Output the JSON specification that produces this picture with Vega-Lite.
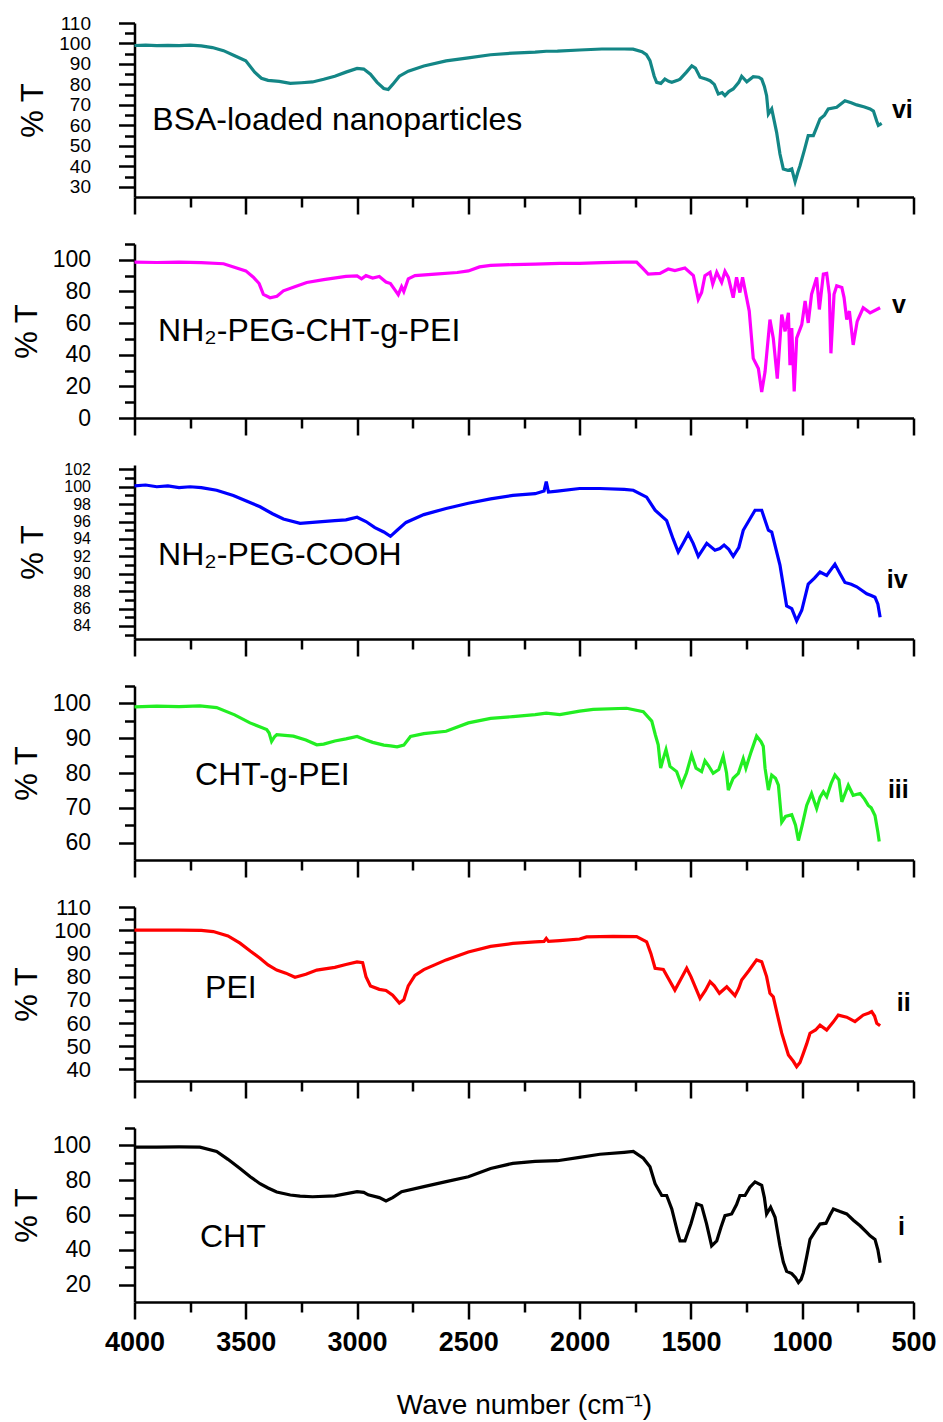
{
"$schema": "https://vega.github.io/schema/vega-lite/v6.json",
"background": "white",
"padding": {"left": 10.5, "top": 14, "right": 4, "bottom": 2},
"spacing": 47,
"bounds": "flush",
"config": {
  "view": {"stroke": null},
  "axis": {"domainColor": "black", "domainWidth": 2.5, "tickColor": "black", "tickWidth": 2.5, "grid": false, "labelFont": "Liberation Sans", "titleFont": "Liberation Sans", "labelColor": "black", "titleColor": "black", "labelFlush": false, "labelOverlap": false},
  "text": {"font": "Liberation Sans", "color": "black"}
},
"datasets": {
"vi": [{"w":4000,"t":99},{"w":3950,"t":99.2},{"w":3900,"t":98.9},{"w":3850,"t":99.1},{"w":3800,"t":98.9},{"w":3750,"t":99.2},{"w":3700,"t":98.8},{"w":3650,"t":98},{"w":3600,"t":96.5},{"w":3550,"t":94},{"w":3500,"t":91.5},{"w":3460,"t":86},{"w":3430,"t":83},{"w":3400,"t":82},{"w":3350,"t":81.5},{"w":3300,"t":80.5},{"w":3250,"t":80.8},{"w":3200,"t":81.2},{"w":3150,"t":82.5},{"w":3100,"t":84},{"w":3050,"t":86},{"w":3000,"t":87.8},{"w":2970,"t":87.5},{"w":2940,"t":85},{"w":2910,"t":81},{"w":2880,"t":78},{"w":2860,"t":77.5},{"w":2840,"t":80},{"w":2810,"t":84},{"w":2770,"t":86.5},{"w":2700,"t":89},{"w":2600,"t":91.5},{"w":2500,"t":93},{"w":2400,"t":94.5},{"w":2300,"t":95.3},{"w":2200,"t":95.8},{"w":2150,"t":96.2},{"w":2100,"t":96.3},{"w":2000,"t":96.8},{"w":1900,"t":97.3},{"w":1800,"t":97.3},{"w":1760,"t":97.2},{"w":1720,"t":96},{"w":1700,"t":94.5},{"w":1684,"t":91.6},{"w":1665,"t":84},{"w":1654,"t":81},{"w":1635,"t":80.5},{"w":1617,"t":82.6},{"w":1600,"t":81.5},{"w":1586,"t":81},{"w":1560,"t":82},{"w":1549,"t":82.6},{"w":1520,"t":86},{"w":1496,"t":89.1},{"w":1480,"t":88},{"w":1459,"t":83.5},{"w":1430,"t":82.5},{"w":1414,"t":81.8},{"w":1395,"t":80},{"w":1377,"t":75.3},{"w":1360,"t":76},{"w":1347,"t":74.5},{"w":1330,"t":76.5},{"w":1310,"t":77.8},{"w":1285,"t":81},{"w":1272,"t":84},{"w":1249,"t":81.3},{"w":1220,"t":83.8},{"w":1195,"t":83.5},{"w":1182,"t":82.6},{"w":1170,"t":79},{"w":1160,"t":74.5},{"w":1152,"t":65.5},{"w":1137,"t":68},{"w":1115,"t":56.6},{"w":1100,"t":46},{"w":1085,"t":38.7},{"w":1065,"t":38},{"w":1047,"t":38.7},{"w":1032,"t":32.5},{"w":1020,"t":37},{"w":1010,"t":40.3},{"w":990,"t":48},{"w":973,"t":55},{"w":950,"t":55},{"w":935,"t":59},{"w":920,"t":63.1},{"w":900,"t":65},{"w":883,"t":68},{"w":845,"t":68.8},{"w":808,"t":72},{"w":780,"t":71},{"w":755,"t":70},{"w":720,"t":69},{"w":695,"t":68},{"w":680,"t":67},{"w":665,"t":62},{"w":658,"t":60},{"w":643,"t":61}],
"v": [{"w":4000,"t":98.5},{"w":3900,"t":98.3},{"w":3800,"t":98.5},{"w":3700,"t":98.2},{"w":3600,"t":97.5},{"w":3500,"t":93},{"w":3466,"t":89},{"w":3440,"t":85},{"w":3421,"t":78.2},{"w":3391,"t":76},{"w":3360,"t":77},{"w":3331,"t":80.4},{"w":3280,"t":83},{"w":3226,"t":85.7},{"w":3150,"t":87.5},{"w":3050,"t":89.5},{"w":3000,"t":89.8},{"w":2980,"t":88},{"w":2960,"t":90},{"w":2930,"t":88.5},{"w":2900,"t":89.5},{"w":2870,"t":86},{"w":2850,"t":85},{"w":2830,"t":81},{"w":2815,"t":78},{"w":2800,"t":83},{"w":2790,"t":80},{"w":2770,"t":88},{"w":2740,"t":90},{"w":2650,"t":91},{"w":2550,"t":92},{"w":2500,"t":93},{"w":2450,"t":95.5},{"w":2400,"t":96.5},{"w":2300,"t":97},{"w":2200,"t":97.3},{"w":2089,"t":97.8},{"w":2000,"t":97.8},{"w":1900,"t":98.2},{"w":1800,"t":98.5},{"w":1744,"t":98.5},{"w":1714,"t":94.2},{"w":1692,"t":91},{"w":1639,"t":91.4},{"w":1602,"t":94.2},{"w":1572,"t":93.2},{"w":1527,"t":94.8},{"w":1489,"t":90},{"w":1467,"t":75},{"w":1452,"t":79.3},{"w":1437,"t":90},{"w":1414,"t":92.1},{"w":1402,"t":84.6},{"w":1384,"t":92.1},{"w":1362,"t":85.7},{"w":1347,"t":92.7},{"w":1332,"t":88.9},{"w":1310,"t":76.1},{"w":1295,"t":88.9},{"w":1280,"t":79.3},{"w":1268,"t":88.9},{"w":1250,"t":76.1},{"w":1238,"t":67.6},{"w":1220,"t":37.7},{"w":1197,"t":31.3},{"w":1182,"t":16.4},{"w":1167,"t":29.2},{"w":1145,"t":62.2},{"w":1130,"t":50.5},{"w":1112,"t":24.9},{"w":1092,"t":65.4},{"w":1077,"t":54.8},{"w":1062,"t":66.5},{"w":1055,"t":33.4},{"w":1047,"t":56.9},{"w":1036,"t":16.8},{"w":1025,"t":50.5},{"w":1002,"t":59},{"w":987,"t":74},{"w":973,"t":60.1},{"w":958,"t":78.2},{"w":935,"t":88.9},{"w":923,"t":68.6},{"w":905,"t":91},{"w":890,"t":91.4},{"w":878,"t":78.2},{"w":871,"t":40.9},{"w":857,"t":78.2},{"w":845,"t":83.6},{"w":822,"t":82.5},{"w":812,"t":76.1},{"w":800,"t":62.2},{"w":788,"t":67.6},{"w":771,"t":46.2},{"w":753,"t":61.1},{"w":726,"t":69.7},{"w":695,"t":66.5},{"w":650,"t":69.7}],
"iv": [{"w":4000,"t":100.1},{"w":3950,"t":100.2},{"w":3900,"t":100.0},{"w":3850,"t":100.1},{"w":3800,"t":99.9},{"w":3750,"t":100.0},{"w":3700,"t":99.9},{"w":3631,"t":99.6},{"w":3556,"t":99.0},{"w":3500,"t":98.4},{"w":3436,"t":97.7},{"w":3380,"t":96.9},{"w":3331,"t":96.3},{"w":3256,"t":95.8},{"w":3200,"t":95.9},{"w":3100,"t":96.1},{"w":3050,"t":96.2},{"w":3000,"t":96.5},{"w":2960,"t":96.0},{"w":2920,"t":95.3},{"w":2880,"t":94.8},{"w":2850,"t":94.3},{"w":2820,"t":95.0},{"w":2780,"t":95.9},{"w":2700,"t":96.8},{"w":2600,"t":97.5},{"w":2500,"t":98.1},{"w":2400,"t":98.6},{"w":2300,"t":99.0},{"w":2200,"t":99.2},{"w":2160,"t":99.5},{"w":2150,"t":100.6},{"w":2140,"t":99.4},{"w":2100,"t":99.5},{"w":2000,"t":99.8},{"w":1909,"t":99.8},{"w":1800,"t":99.7},{"w":1759,"t":99.6},{"w":1699,"t":98.8},{"w":1661,"t":97.3},{"w":1609,"t":96.1},{"w":1580,"t":94},{"w":1557,"t":92.5},{"w":1535,"t":93.5},{"w":1512,"t":94.6},{"w":1490,"t":93.5},{"w":1467,"t":92.0},{"w":1429,"t":93.5},{"w":1392,"t":92.7},{"w":1370,"t":92.9},{"w":1351,"t":93.3},{"w":1330,"t":92.8},{"w":1310,"t":92.0},{"w":1285,"t":93},{"w":1265,"t":95.0},{"w":1212,"t":97.3},{"w":1182,"t":97.3},{"w":1152,"t":95.0},{"w":1137,"t":94.8},{"w":1100,"t":91.0},{"w":1070,"t":86.3},{"w":1047,"t":86.0},{"w":1025,"t":84.6},{"w":1002,"t":85.8},{"w":973,"t":88.8},{"w":945,"t":89.5},{"w":920,"t":90.2},{"w":890,"t":89.8},{"w":853,"t":91.1},{"w":830,"t":90},{"w":808,"t":89.0},{"w":780,"t":88.8},{"w":755,"t":88.5},{"w":710,"t":87.7},{"w":690,"t":87.5},{"w":673,"t":87.3},{"w":660,"t":86.5},{"w":650,"t":85.0}],
"iii": [{"w":4000,"t":99},{"w":3900,"t":99.2},{"w":3800,"t":99.1},{"w":3706,"t":99.3},{"w":3631,"t":98.8},{"w":3550,"t":96.7},{"w":3481,"t":94.4},{"w":3406,"t":92.5},{"w":3395,"t":91.5},{"w":3384,"t":89.1},{"w":3370,"t":90.5},{"w":3361,"t":91},{"w":3286,"t":90.6},{"w":3230,"t":89.5},{"w":3181,"t":88.1},{"w":3150,"t":88.3},{"w":3100,"t":89.2},{"w":3050,"t":89.8},{"w":3000,"t":90.5},{"w":2960,"t":89.5},{"w":2930,"t":88.8},{"w":2880,"t":88},{"w":2850,"t":87.8},{"w":2820,"t":87.5},{"w":2790,"t":88},{"w":2760,"t":90.5},{"w":2700,"t":91.3},{"w":2600,"t":92},{"w":2500,"t":94.4},{"w":2400,"t":95.7},{"w":2300,"t":96.2},{"w":2200,"t":96.8},{"w":2150,"t":97.2},{"w":2089,"t":96.8},{"w":2000,"t":97.8},{"w":1939,"t":98.3},{"w":1789,"t":98.6},{"w":1714,"t":97.6},{"w":1676,"t":94.9},{"w":1660,"t":91},{"w":1647,"t":88.1},{"w":1636,"t":81.4},{"w":1625,"t":84},{"w":1612,"t":86.7},{"w":1594,"t":81.9},{"w":1564,"t":80.4},{"w":1542,"t":76.5},{"w":1520,"t":80},{"w":1497,"t":85.2},{"w":1477,"t":81.4},{"w":1452,"t":80.4},{"w":1437,"t":83.5},{"w":1420,"t":82},{"w":1400,"t":79.9},{"w":1375,"t":81},{"w":1355,"t":84.8},{"w":1340,"t":80},{"w":1332,"t":75.1},{"w":1310,"t":78.5},{"w":1287,"t":79.9},{"w":1265,"t":84.1},{"w":1253,"t":81.4},{"w":1230,"t":86},{"w":1205,"t":90.6},{"w":1185,"t":89},{"w":1175,"t":87.7},{"w":1167,"t":81.4},{"w":1152,"t":75.1},{"w":1137,"t":79.4},{"w":1120,"t":78.5},{"w":1107,"t":76.5},{"w":1092,"t":65.9},{"w":1075,"t":67.5},{"w":1047,"t":68.0},{"w":1030,"t":65},{"w":1017,"t":60.6},{"w":1000,"t":65},{"w":980,"t":70.7},{"w":958,"t":74.1},{"w":935,"t":69.8},{"w":920,"t":73},{"w":905,"t":74.6},{"w":890,"t":73.2},{"w":870,"t":77},{"w":853,"t":79.4},{"w":835,"t":78},{"w":822,"t":71.7},{"w":793,"t":76.5},{"w":771,"t":73.6},{"w":740,"t":74.1},{"w":720,"t":72.5},{"w":703,"t":70.7},{"w":690,"t":70},{"w":673,"t":67.8},{"w":660,"t":63},{"w":654,"t":60.3}],
"ii": [{"w":4000,"t":100},{"w":3900,"t":100},{"w":3800,"t":100},{"w":3700,"t":99.9},{"w":3646,"t":99.4},{"w":3580,"t":97.5},{"w":3526,"t":94.4},{"w":3480,"t":91},{"w":3436,"t":87.9},{"w":3400,"t":85},{"w":3361,"t":82.8},{"w":3320,"t":81.5},{"w":3279,"t":79.7},{"w":3230,"t":81},{"w":3181,"t":82.8},{"w":3100,"t":84},{"w":3050,"t":85.2},{"w":3000,"t":86.3},{"w":2975,"t":86},{"w":2960,"t":80},{"w":2940,"t":76},{"w":2900,"t":74.5},{"w":2870,"t":74},{"w":2840,"t":72},{"w":2810,"t":68.6},{"w":2790,"t":70},{"w":2770,"t":76},{"w":2740,"t":80.5},{"w":2700,"t":83},{"w":2600,"t":87.2},{"w":2500,"t":90.6},{"w":2400,"t":93},{"w":2300,"t":94.3},{"w":2200,"t":95},{"w":2160,"t":95.2},{"w":2150,"t":96.5},{"w":2140,"t":95.2},{"w":2089,"t":95.5},{"w":2000,"t":96.2},{"w":1969,"t":97.1},{"w":1850,"t":97.3},{"w":1744,"t":97.2},{"w":1699,"t":95.0},{"w":1680,"t":90},{"w":1661,"t":83.6},{"w":1624,"t":83.1},{"w":1600,"t":79},{"w":1572,"t":74.2},{"w":1545,"t":79},{"w":1519,"t":83.6},{"w":1500,"t":80},{"w":1459,"t":70.6},{"w":1435,"t":74},{"w":1414,"t":77.8},{"w":1395,"t":76},{"w":1372,"t":72.8},{"w":1339,"t":75.6},{"w":1302,"t":71.8},{"w":1285,"t":75},{"w":1272,"t":78.5},{"w":1240,"t":82.5},{"w":1205,"t":87.2},{"w":1182,"t":86.4},{"w":1160,"t":80},{"w":1145,"t":72.8},{"w":1130,"t":71.3},{"w":1110,"t":63},{"w":1092,"t":55.6},{"w":1062,"t":46.2},{"w":1040,"t":43.5},{"w":1025,"t":41.2},{"w":1010,"t":43},{"w":995,"t":46.9},{"w":980,"t":51},{"w":965,"t":55.6},{"w":940,"t":57},{"w":920,"t":59.1},{"w":890,"t":57.0},{"w":860,"t":60.5},{"w":838,"t":63.4},{"w":800,"t":62.5},{"w":763,"t":60.6},{"w":726,"t":63.4},{"w":700,"t":64.3},{"w":688,"t":64.9},{"w":675,"t":63},{"w":665,"t":59.9},{"w":650,"t":58.8}],
"i": [{"w":4000,"t":99},{"w":3900,"t":99},{"w":3800,"t":99.1},{"w":3706,"t":99},{"w":3631,"t":96.5},{"w":3580,"t":92},{"w":3526,"t":86.7},{"w":3480,"t":82},{"w":3436,"t":78},{"w":3400,"t":75.5},{"w":3361,"t":73.2},{"w":3300,"t":71.5},{"w":3256,"t":70.9},{"w":3200,"t":70.5},{"w":3100,"t":71},{"w":3000,"t":73.4},{"w":2970,"t":73},{"w":2950,"t":71.6},{"w":2900,"t":70},{"w":2870,"t":68.1},{"w":2840,"t":70},{"w":2800,"t":73.4},{"w":2700,"t":76.3},{"w":2600,"t":79.2},{"w":2500,"t":82},{"w":2400,"t":86.7},{"w":2300,"t":89.7},{"w":2200,"t":90.8},{"w":2100,"t":91.2},{"w":2000,"t":93.1},{"w":1909,"t":94.9},{"w":1800,"t":96},{"w":1759,"t":96.5},{"w":1714,"t":92.6},{"w":1684,"t":87.7},{"w":1661,"t":78},{"w":1631,"t":71.2},{"w":1609,"t":71.2},{"w":1586,"t":63.5},{"w":1560,"t":50},{"w":1549,"t":45.1},{"w":1527,"t":45.1},{"w":1500,"t":55},{"w":1474,"t":66.4},{"w":1452,"t":65.4},{"w":1430,"t":55},{"w":1407,"t":42.2},{"w":1384,"t":45.1},{"w":1365,"t":53},{"w":1347,"t":59.6},{"w":1317,"t":60.6},{"w":1295,"t":66},{"w":1280,"t":71.2},{"w":1257,"t":71.2},{"w":1235,"t":76},{"w":1212,"t":79},{"w":1182,"t":77},{"w":1170,"t":70},{"w":1160,"t":60.6},{"w":1142,"t":64.5},{"w":1122,"t":58.7},{"w":1100,"t":42.2},{"w":1085,"t":33},{"w":1070,"t":27.6},{"w":1047,"t":26.3},{"w":1030,"t":24},{"w":1017,"t":21.2},{"w":1005,"t":23},{"w":995,"t":26.7},{"w":980,"t":36},{"w":965,"t":46},{"w":940,"t":51},{"w":920,"t":54.8},{"w":893,"t":55.3},{"w":875,"t":60},{"w":860,"t":63.5},{"w":830,"t":62},{"w":800,"t":60.6},{"w":770,"t":57},{"w":740,"t":53.8},{"w":710,"t":50},{"w":695,"t":48},{"w":673,"t":46},{"w":660,"t":40},{"w":650,"t":32.5}]
},
"vconcat": [
{"width": 779, "height": 174, "resolve": {"axis": {"x": "independent", "y": "independent"}}, "layer": [
 {"data": {"name": "vi"}, "mark": {"type": "line", "opacity": 0},
  "encoding": {
   "x": {"field": "w", "type": "quantitative", "scale": {"domain": [500, 4000], "reverse": true, "nice": false, "zero": false},
     "axis": {"orient": "bottom", "title": null, "labels": false, "domain": false, "tickSize": 10, "values": [750,1250,1750,2250,2750,3250,3750]}},
   "y": {"field": "t", "type": "quantitative", "scale": {"domain": [25, 110], "nice": false, "zero": false},
     "axis": {"orient": "left", "title": null, "labels": false, "domain": false, "tickSize": 10, "values": [35,45,55,65,75,85,95,105]}}
  }},
 {"data": {"name": "vi"}, "mark": {"type": "line", "color": "#138686", "strokeWidth": 3.2},
  "encoding": {
   "x": {"field": "w", "type": "quantitative",
     "axis": {"orient": "bottom", "title": null, "labels": false, "tickSize": 17, "values": [500,1000,1500,2000,2500,3000,3500,4000]}},
   "y": {"field": "t", "type": "quantitative",
     "axis": {"orient": "left", "title": "% T", "titleFontSize": 31, "titleFontWeight": "normal", "titleX": -101, "titleY": 87, "titleAngle": -90, "titleBaseline": "middle", "titleAlign": "center",
       "values": [30,40,50,60,70,80,90,100,110], "labelFontSize": 19, "labelPadding": 28, "labelOverlap": false, "tickSize": 16}}
  }},
 {"data": {"values": [{}]}, "mark": {"type": "text", "align": "left", "baseline": "middle", "fontSize": 32}, "encoding": {"x": {"datum": 3920, "axis": null}, "y": {"datum": 62.6, "axis": null}, "text": {"value": "BSA-loaded nanoparticles"}}},
 {"data": {"values": [{}]}, "mark": {"type": "text", "align": "left", "baseline": "middle", "fontSize": 25, "fontWeight": "bold"}, "encoding": {"x": {"datum": 597, "axis": null}, "y": {"datum": 67.5, "axis": null}, "text": {"value": "vi"}}}
]},
{"width": 779, "height": 174, "resolve": {"axis": {"x": "independent", "y": "independent"}}, "layer": [
 {"data": {"name": "v"}, "mark": {"type": "line", "opacity": 0},
  "encoding": {
   "x": {"field": "w", "type": "quantitative", "scale": {"domain": [500, 4000], "reverse": true, "nice": false, "zero": false},
     "axis": {"orient": "bottom", "title": null, "labels": false, "domain": false, "tickSize": 10, "values": [750,1250,1750,2250,2750,3250,3750]}},
   "y": {"field": "t", "type": "quantitative", "scale": {"domain": [0, 110], "nice": false, "zero": false},
     "axis": {"orient": "left", "title": null, "labels": false, "domain": false, "tickSize": 10, "values": [10,30,50,70,90,110]}}
  }},
 {"data": {"name": "v"}, "mark": {"type": "line", "color": "#ff00ff", "strokeWidth": 3.2},
  "encoding": {
   "x": {"field": "w", "type": "quantitative",
     "axis": {"orient": "bottom", "title": null, "labels": false, "tickSize": 17, "values": [500,1000,1500,2000,2500,3000,3500,4000]}},
   "y": {"field": "t", "type": "quantitative",
     "axis": {"orient": "left", "title": "% T", "titleFontSize": 31, "titleFontWeight": "normal", "titleX": -107, "titleY": 87, "titleAngle": -90, "titleBaseline": "middle", "titleAlign": "center",
       "values": [0,20,40,60,80,100], "labelFontSize": 23, "labelPadding": 28, "labelOverlap": false, "tickSize": 16}}
  }},
 {"data": {"values": [{}]}, "mark": {"type": "text", "align": "left", "baseline": "middle", "fontSize": 32}, "encoding": {"x": {"datum": 3894, "axis": null}, "y": {"datum": 55, "axis": null}, "text": {"value": "NH₂-PEG-CHT-g-PEI"}}},
 {"data": {"values": [{}]}, "mark": {"type": "text", "align": "left", "baseline": "middle", "fontSize": 25, "fontWeight": "bold"}, "encoding": {"x": {"datum": 597, "axis": null}, "y": {"datum": 71.6, "axis": null}, "text": {"value": "v"}}}
]},
{"width": 779, "height": 174, "resolve": {"axis": {"x": "independent", "y": "independent"}}, "layer": [
 {"data": {"name": "iv"}, "mark": {"type": "line", "opacity": 0},
  "encoding": {
   "x": {"field": "w", "type": "quantitative", "scale": {"domain": [500, 4000], "reverse": true, "nice": false, "zero": false},
     "axis": {"orient": "bottom", "title": null, "labels": false, "domain": false, "tickSize": 10, "values": [750,1250,1750,2250,2750,3250,3750]}},
   "y": {"field": "t", "type": "quantitative", "scale": {"domain": [82.5, 102.5], "nice": false, "zero": false},
     "axis": {"orient": "left", "title": null, "labels": false, "domain": false, "tickSize": 10, "values": [83,85,87,89,91,93,95,97,99,101]}}
  }},
 {"data": {"name": "iv"}, "mark": {"type": "line", "color": "#0000ff", "strokeWidth": 3.2},
  "encoding": {
   "x": {"field": "w", "type": "quantitative",
     "axis": {"orient": "bottom", "title": null, "labels": false, "tickSize": 17, "values": [500,1000,1500,2000,2500,3000,3500,4000]}},
   "y": {"field": "t", "type": "quantitative",
     "axis": {"orient": "left", "title": "% T", "titleFontSize": 31, "titleFontWeight": "normal", "titleX": -101, "titleY": 87, "titleAngle": -90, "titleBaseline": "middle", "titleAlign": "center",
       "values": [84,86,88,90,92,94,96,98,100,102], "labelFontSize": 16, "labelPadding": 28, "labelOverlap": false, "tickSize": 16}}
  }},
 {"data": {"values": [{}]}, "mark": {"type": "text", "align": "left", "baseline": "middle", "fontSize": 32}, "encoding": {"x": {"datum": 3894, "axis": null}, "y": {"datum": 92.1, "axis": null}, "text": {"value": "NH₂-PEG-COOH"}}},
 {"data": {"values": [{}]}, "mark": {"type": "text", "align": "left", "baseline": "middle", "fontSize": 25, "fontWeight": "bold"}, "encoding": {"x": {"datum": 620, "axis": null}, "y": {"datum": 89.3, "axis": null}, "text": {"value": "iv"}}}
]},
{"width": 779, "height": 174, "resolve": {"axis": {"x": "independent", "y": "independent"}}, "layer": [
 {"data": {"name": "iii"}, "mark": {"type": "line", "opacity": 0},
  "encoding": {
   "x": {"field": "w", "type": "quantitative", "scale": {"domain": [500, 4000], "reverse": true, "nice": false, "zero": false},
     "axis": {"orient": "bottom", "title": null, "labels": false, "domain": false, "tickSize": 10, "values": [750,1250,1750,2250,2750,3250,3750]}},
   "y": {"field": "t", "type": "quantitative", "scale": {"domain": [55, 105], "nice": false, "zero": false},
     "axis": {"orient": "left", "title": null, "labels": false, "domain": false, "tickSize": 10, "values": [65,75,85,95,105]}}
  }},
 {"data": {"name": "iii"}, "mark": {"type": "line", "color": "#22ee22", "strokeWidth": 3.2},
  "encoding": {
   "x": {"field": "w", "type": "quantitative",
     "axis": {"orient": "bottom", "title": null, "labels": false, "tickSize": 17, "values": [500,1000,1500,2000,2500,3000,3500,4000]}},
   "y": {"field": "t", "type": "quantitative",
     "axis": {"orient": "left", "title": "% T", "titleFontSize": 31, "titleFontWeight": "normal", "titleX": -107, "titleY": 87, "titleAngle": -90, "titleBaseline": "middle", "titleAlign": "center",
       "values": [60,70,80,90,100], "labelFontSize": 23, "labelPadding": 28, "labelOverlap": false, "tickSize": 16}}
  }},
 {"data": {"values": [{}]}, "mark": {"type": "text", "align": "left", "baseline": "middle", "fontSize": 32}, "encoding": {"x": {"datum": 3728, "axis": null}, "y": {"datum": 79.3, "axis": null}, "text": {"value": "CHT-g-PEI"}}},
 {"data": {"values": [{}]}, "mark": {"type": "text", "align": "left", "baseline": "middle", "fontSize": 25, "fontWeight": "bold"}, "encoding": {"x": {"datum": 615, "axis": null}, "y": {"datum": 75, "axis": null}, "text": {"value": "iii"}}}
]},
{"width": 779, "height": 174, "resolve": {"axis": {"x": "independent", "y": "independent"}}, "layer": [
 {"data": {"name": "ii"}, "mark": {"type": "line", "opacity": 0},
  "encoding": {
   "x": {"field": "w", "type": "quantitative", "scale": {"domain": [500, 4000], "reverse": true, "nice": false, "zero": false},
     "axis": {"orient": "bottom", "title": null, "labels": false, "domain": false, "tickSize": 10, "values": [750,1250,1750,2250,2750,3250,3750]}},
   "y": {"field": "t", "type": "quantitative", "scale": {"domain": [35, 110], "nice": false, "zero": false},
     "axis": {"orient": "left", "title": null, "labels": false, "domain": false, "tickSize": 10, "values": [45,55,65,75,85,95,105]}}
  }},
 {"data": {"name": "ii"}, "mark": {"type": "line", "color": "#ff0000", "strokeWidth": 3.2},
  "encoding": {
   "x": {"field": "w", "type": "quantitative",
     "axis": {"orient": "bottom", "title": null, "labels": false, "tickSize": 17, "values": [500,1000,1500,2000,2500,3000,3500,4000]}},
   "y": {"field": "t", "type": "quantitative",
     "axis": {"orient": "left", "title": "% T", "titleFontSize": 31, "titleFontWeight": "normal", "titleX": -107, "titleY": 87, "titleAngle": -90, "titleBaseline": "middle", "titleAlign": "center",
       "values": [40,50,60,70,80,90,100,110], "labelFontSize": 22, "labelPadding": 28, "labelOverlap": false, "tickSize": 16}}
  }},
 {"data": {"values": [{}]}, "mark": {"type": "text", "align": "left", "baseline": "middle", "fontSize": 32}, "encoding": {"x": {"datum": 3683, "axis": null}, "y": {"datum": 75, "axis": null}, "text": {"value": "PEI"}}},
 {"data": {"values": [{}]}, "mark": {"type": "text", "align": "left", "baseline": "middle", "fontSize": 25, "fontWeight": "bold"}, "encoding": {"x": {"datum": 575, "axis": null}, "y": {"datum": 68.6, "axis": null}, "text": {"value": "ii"}}}
]},
{"width": 779, "height": 174, "resolve": {"axis": {"x": "independent", "y": "independent"}}, "layer": [
 {"data": {"name": "i"}, "mark": {"type": "line", "opacity": 0},
  "encoding": {
   "x": {"field": "w", "type": "quantitative", "scale": {"domain": [500, 4000], "reverse": true, "nice": false, "zero": false},
     "axis": {"orient": "bottom", "title": null, "labels": false, "domain": false, "tickSize": 10, "values": [750,1250,1750,2250,2750,3250,3750]}},
   "y": {"field": "t", "type": "quantitative", "scale": {"domain": [10, 110], "nice": false, "zero": false},
     "axis": {"orient": "left", "title": null, "labels": false, "domain": false, "tickSize": 10, "values": [30,50,70,90,110]}}
  }},
 {"data": {"name": "i"}, "mark": {"type": "line", "color": "#000000", "strokeWidth": 3.2},
  "encoding": {
   "x": {"field": "w", "type": "quantitative",
     "axis": {"orient": "bottom", "title": "Wave number (cm⁻¹)", "titleFontSize": 28, "titleFontWeight": "normal", "titlePadding": 36, "format": "d", "labelFontSize": 27, "labelFontWeight": "bold", "labelPadding": 10, "labelOverlap": false, "tickSize": 17, "values": [500,1000,1500,2000,2500,3000,3500,4000]}},
   "y": {"field": "t", "type": "quantitative",
     "axis": {"orient": "left", "title": "% T", "titleFontSize": 31, "titleFontWeight": "normal", "titleX": -107, "titleY": 87, "titleAngle": -90, "titleBaseline": "middle", "titleAlign": "center",
       "values": [20,40,60,80,100], "labelFontSize": 23, "labelPadding": 28, "labelOverlap": false, "tickSize": 16}}
  }},
 {"data": {"values": [{}]}, "mark": {"type": "text", "align": "left", "baseline": "middle", "fontSize": 32}, "encoding": {"x": {"datum": 3706, "axis": null}, "y": {"datum": 47.2, "axis": null}, "text": {"value": "CHT"}}},
 {"data": {"values": [{}]}, "mark": {"type": "text", "align": "left", "baseline": "middle", "fontSize": 25, "fontWeight": "bold"}, "encoding": {"x": {"datum": 570, "axis": null}, "y": {"datum": 53, "axis": null}, "text": {"value": "i"}}}
]}
]
}
